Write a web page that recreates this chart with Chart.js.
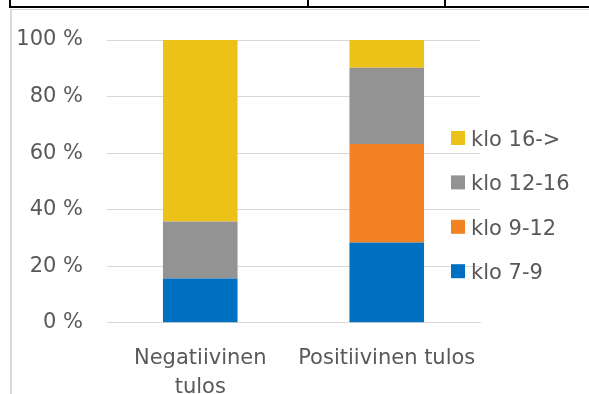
<!DOCTYPE html>
<html lang="fi">
  <head>
    <meta charset="UTF-8" />
    <title>Tulokset kellonajan mukaan</title>
    <script src="https://cdn.jsdelivr.net/npm/chart.js"></script>
    <style>
      html, body { margin: 0; padding: 0; background: #fff; }
      #wrap { position: relative; width: 589px; height: 394px; overflow: hidden; }
      #chart { position: absolute; left: 0; top: 0; }
      .ln { position: absolute; }
      .blk { background: #000; }
      .gry { background: #d9d9d9; }
    </style>
  </head>
  <body>
    <div id="wrap">
      <!-- taulukon reunat yläosassa -->
      <div class="ln blk" style="left:9px;top:6px;width:580px;height:2px"></div>
      <div class="ln blk" style="left:9px;top:0;width:2px;height:8px"></div>
      <div class="ln blk" style="left:307px;top:0;width:2px;height:8px"></div>
      <div class="ln blk" style="left:444px;top:0;width:2px;height:8px"></div>
      <!-- kaavion kehys -->
      <div class="ln gry" style="left:10px;top:9px;width:579px;height:1px"></div>
      <div class="ln gry" style="left:10px;top:9px;width:2px;height:385px"></div>
      <canvas id="chart" width="589" height="394"></canvas>
    </div>

    <script>
      // data
      const categories = [["Negatiivinen", "tulos"], "Positiivinen tulos"];
      const klo7_9 = [15.6, 28.4];
      const klo9_12 = [0, 34.8];
      const klo12_16 = [20.2, 27.0];
      const klo16 = [64.2, 9.8];
      const yTicks = [0, 20, 40, 60, 80, 100];

      const txtColor = "#595959";
      const font = { family: "'DejaVu Sans', Verdana, sans-serif", size: 21 };

      // oma selite, joka saa mennä piirtoalueen päälle
      const sideLegend = {
        id: "sideLegend",
        afterDraw(chart) {
          const ctx = chart.ctx;
          const sets = chart.data.datasets.slice().reverse();
          ctx.save();
          ctx.font = font.size + "px " + font.family;
          ctx.textBaseline = "alphabetic";
          ctx.textAlign = "left";
          sets.forEach((ds, i) => {
            const cy = 138 + i * 44.4;
            ctx.fillStyle = ds.backgroundColor;
            ctx.fillRect(451, cy - 7, 14, 14);
            ctx.fillStyle = txtColor;
            ctx.fillText(ds.label, 471, cy + 8);
          });
          ctx.restore();
        }
      };

      new Chart(document.getElementById("chart"), {
        type: "bar",
        data: {
          labels: categories,
          datasets: [
            { label: "klo 7-9", data: klo7_9, backgroundColor: "#0070c0" },
            { label: "klo 9-12", data: klo9_12, backgroundColor: "#f28222" },
            { label: "klo 12-16", data: klo12_16, backgroundColor: "#939393" },
            { label: "klo 16->", data: klo16, backgroundColor: "#edc218" }
          ]
        },
        options: {
          responsive: false,
          animation: false,
          layout: { padding: { top: 40, right: 109, left: 10, bottom: 0 } },
          datasets: { bar: { barPercentage: 0.4, categoryPercentage: 1 } },
          plugins: { legend: { display: false }, tooltip: { enabled: false } },
          scales: {
            x: {
              stacked: true,
              grid: { display: false },
              border: { color: "#d9d9d9", width: 1 },
              ticks: { color: txtColor, font: { ...font, lineHeight: 1.35 }, padding: 14, maxRotation: 0 },
              afterFit: (s) => { s.height = 71.3; }
            },
            y: {
              stacked: true,
              min: 0,
              max: 100,
              afterBuildTicks: (s) => { s.ticks = yTicks.map((v) => ({ value: v })); },
              grid: { color: "#d9d9d9", drawTicks: false },
              border: { display: false },
              ticks: { color: txtColor, font: font, padding: 24, callback: (v) => v + " %" },
              afterFit: (s) => { s.width = 97; }
            }
          }
        },
        plugins: [sideLegend]
      });
    </script>
  </body>
</html>
